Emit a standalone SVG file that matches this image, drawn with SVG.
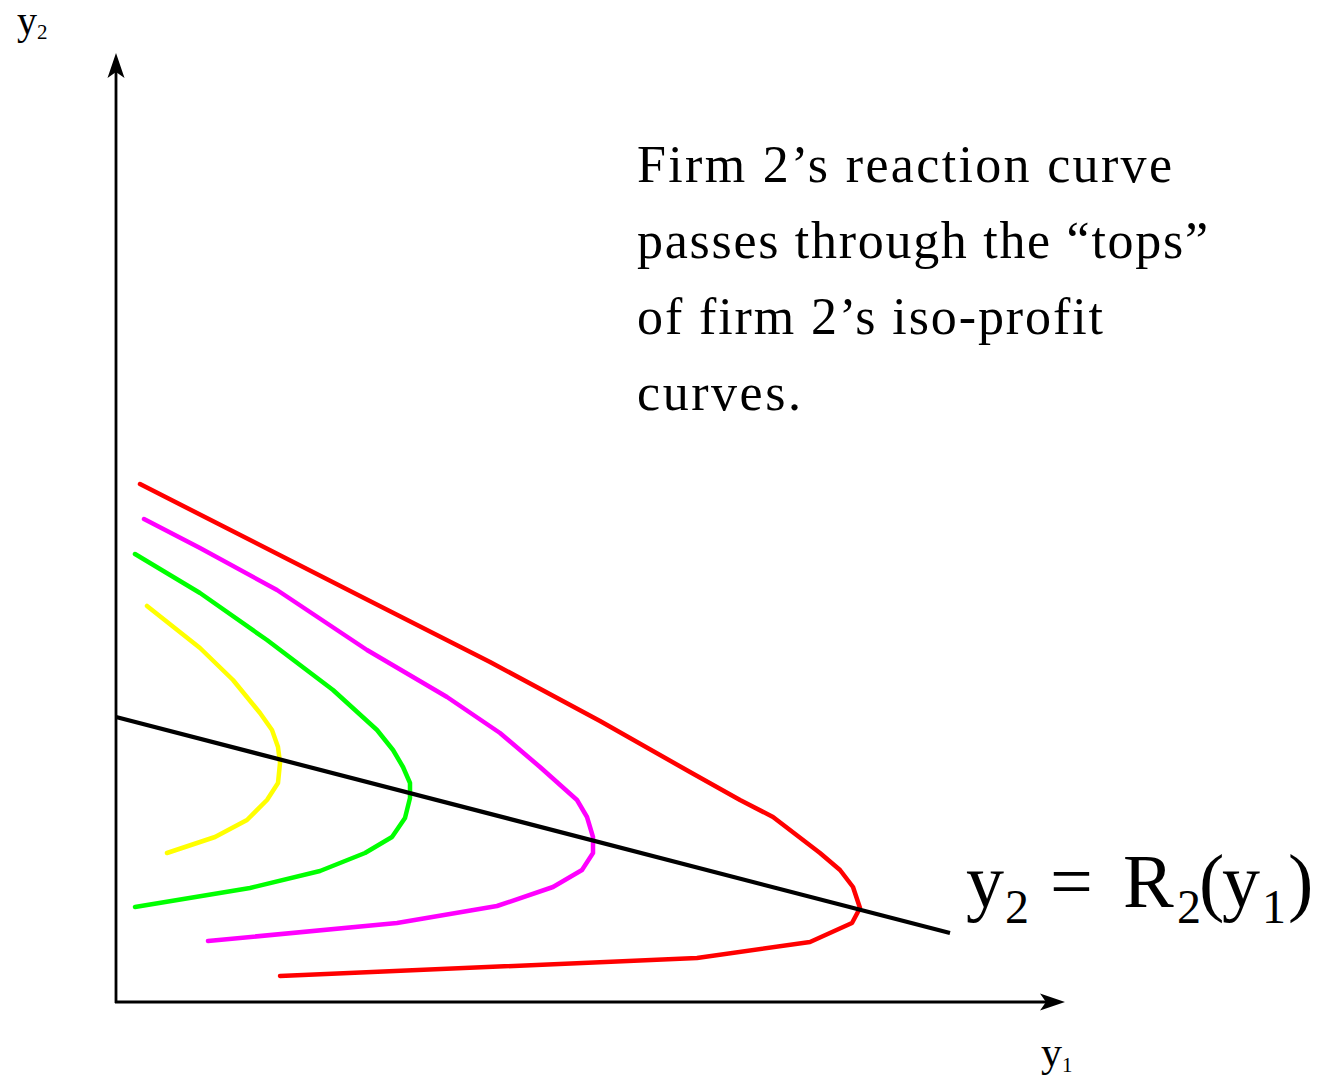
<svg xmlns="http://www.w3.org/2000/svg" width="1318" height="1075" viewBox="0 0 1318 1075">
<style>
.ax{stroke:#000;stroke-width:2.8;fill:none}
.cv{fill:none;stroke-width:4.5;stroke-linejoin:round;stroke-linecap:round}
.t{font-family:"Liberation Serif","Times New Roman",serif;fill:#000}
</style>
<defs>
<marker id="arr" viewBox="-17 -10 27 20" markerWidth="27" markerHeight="20" refX="0" refY="0" orient="auto" markerUnits="userSpaceOnUse">
<path d="M9,0 L-16,-8.5 L-10,0 L-16,8.5 Z" fill="#000"/>
</marker>
</defs>
<rect width="1318" height="1075" fill="#fff"/>
<g id="axes">
<line class="ax" x1="116" y1="1003" x2="116" y2="62" marker-end="url(#arr)"/>
<line class="ax" x1="115" y1="1002" x2="1056" y2="1002" marker-end="url(#arr)"/>
</g>
<g id="axis-labels">
<text class="t" x="17" y="34" font-size="40">y<tspan font-size="21" dy="5">2</tspan></text>
<text class="t" x="1041" y="1066" font-size="42">y<tspan font-size="21" dy="6">1</tspan></text>
</g>
<g id="iso-profit-curves">
<polyline id="iso-red" class="cv" stroke="#ff0000" points="140,484 360,596 490,662 600,721 690,772 740,800 773,817 820,853 840,870 853,887 860,908 852,923 810,942 697,958 280,976"/>
<polyline id="iso-magenta" class="cv" stroke="#ff00ff" points="144,519 200,548 277,590 367,650 447,697 500,733 540,767 577,800 587,817 593,837 593,853 582,870 553,887 497,906 397,923 208,941"/>
<polyline id="iso-green" class="cv" stroke="#00ff00" points="135,554 200,593 267,640 333,690 377,730 393,750 403,767 410,783 410,798 405,818 392,837 365,853 320,871 250,888 135,907"/>
<polyline id="iso-yellow" class="cv" stroke="#ffff00" points="147,606 200,648 233,680 260,713 272,730 278,747 280,763 278,783 267,800 247,820 215,837 167,853"/>
</g>
<g id="reaction-curve">
<line x1="116" y1="717" x2="950" y2="933" stroke="#000" stroke-width="4.2"/>
</g>
<g id="reaction-label">
<text class="t" y="907" font-size="76"><tspan x="966">y</tspan><tspan x="1005" y="923" font-size="48">2</tspan><tspan x="1050" y="907">=</tspan><tspan x="1123" y="907">R</tspan><tspan x="1177" y="923" font-size="48">2</tspan><tspan x="1199" y="907">(</tspan><tspan x="1222" y="907">y</tspan><tspan x="1262" y="923" font-size="48">1</tspan><tspan x="1288" y="907">)</tspan></text>
</g>
<g id="annotation">
<text class="t" font-size="52" x="637" y="182" textLength="535" lengthAdjust="spacing">Firm 2’s reaction curve</text>
<text class="t" font-size="52" x="637" y="258" textLength="571" lengthAdjust="spacing">passes through the “tops”</text>
<text class="t" font-size="52" x="637" y="334" textLength="466" lengthAdjust="spacing">of firm 2’s iso-profit</text>
<text class="t" font-size="52" x="637" y="410" textLength="164" lengthAdjust="spacing">curves.</text>
</g>
</svg>
